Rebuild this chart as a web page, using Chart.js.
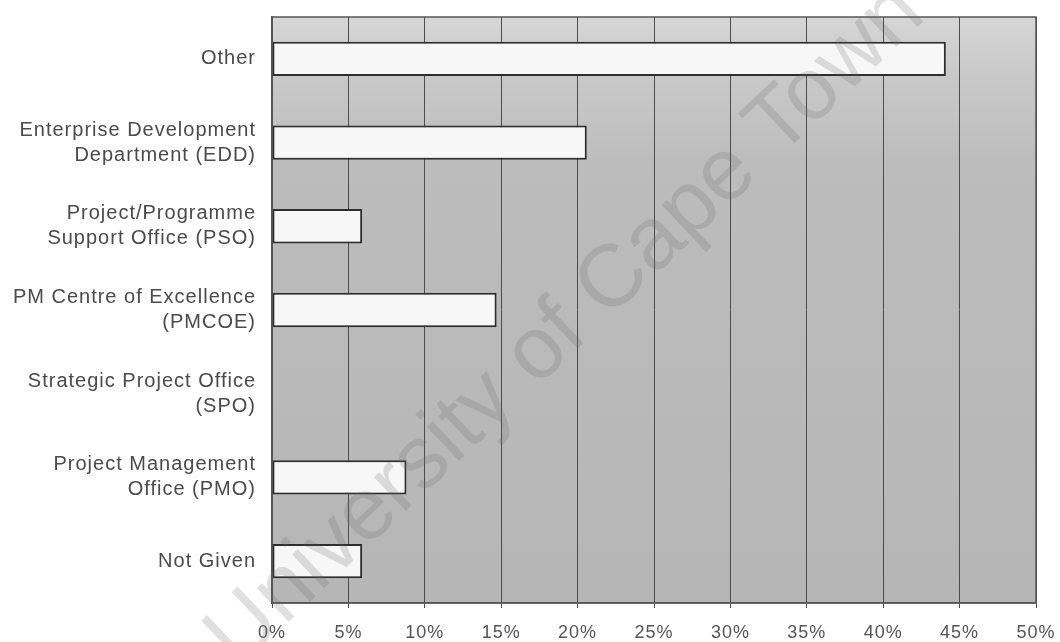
<!DOCTYPE html>
<html>
<head>
<meta charset="utf-8">
<script src="https://cdn.jsdelivr.net/npm/chart.js@4/dist/chart.umd.min.js"></script>
<style>
  html, body { margin: 0; padding: 0; background: #ffffff; }
  #wrap { width: 1060px; height: 642px; position: relative; }
</style>
</head>
<body>
<div id="wrap"><canvas id="c" width="1060" height="642"></canvas></div>
<script>
// ---- data ----
const categories = [
  ['Other'],
  ['Enterprise Development', 'Department (EDD)'],
  ['Project/Programme', 'Support Office (PSO)'],
  ['PM Centre of Excellence', '(PMCOE)'],
  ['Strategic Project Office', '(SPO)'],
  ['Project Management', 'Office (PMO)'],
  ['Not Given']
];
const percentages = [44.1, 20.6, 5.9, 14.7, 0, 8.8, 5.9];
const xTickValues = [0, 5, 10, 15, 20, 25, 30, 35, 40, 45, 50];
const xTickLabels = ['0%', '5%', '10%', '15%', '20%', '25%', '30%', '35%', '40%', '45%', '50%'];
const watermarkText = 'University of Cape Town';

// ---- plugins ----
const spacingPlugin = {
  id: 'spacing',
  beforeUpdate(chart) { chart.ctx.letterSpacing = '1px'; },
  beforeDraw(chart) { chart.ctx.letterSpacing = '1px'; }
};

const plotBg = {
  id: 'plotBg',
  beforeDraw(chart) {
    const { ctx, chartArea: a } = chart;
    ctx.save();
    const g = ctx.createLinearGradient(0, a.top, 0, a.bottom);
    g.addColorStop(0, '#d6d6d6');
    g.addColorStop(0.1, '#c9c9c9');
    g.addColorStop(0.25, '#bcbcbc');
    g.addColorStop(1, '#b6b6b6');
    ctx.fillStyle = g;
    ctx.fillRect(a.left, a.top, a.right - a.left, a.bottom - a.top);
    ctx.restore();
  },
  afterDatasetsDraw(chart) {
    const { ctx, chartArea: a } = chart;
    ctx.save();
    ctx.strokeStyle = '#555555';
    ctx.lineWidth = 1.5;
    ctx.strokeRect(a.left, a.top, a.right - a.left, a.bottom - a.top);
    ctx.restore();
  }
};

const watermark = {
  id: 'watermark',
  afterDraw(chart) {
    const ctx = chart.ctx;
    ctx.save();
    ctx.letterSpacing = '0px';
    ctx.translate(566, 326);
    ctx.rotate(-43.4 * Math.PI / 180);
    ctx.font = '88px "Liberation Sans", Arial, sans-serif';
    ctx.textAlign = 'center';
    ctx.textBaseline = 'middle';
    ctx.fillStyle = 'rgba(100,100,100,0.2)';
    ctx.fillText(watermarkText, 0, 0);
    ctx.restore();
  }
};

new Chart(document.getElementById('c'), {
  type: 'bar',
  data: {
    labels: categories,
    datasets: [{
      data: percentages,
      backgroundColor: '#f7f7f7',
      borderColor: '#2e2e2e',
      borderWidth: 2,
      borderSkipped: false,
      barPercentage: 0.41,
      categoryPercentage: 1.0
    }]
  },
  options: {
    indexAxis: 'y',
    responsive: false,
    animation: false,
    devicePixelRatio: 1,
    layout: { padding: { top: 17, right: 24, left: 0, bottom: 0 } },
    plugins: { legend: { display: false }, tooltip: { enabled: false }, title: { display: false } },
    scales: {
      x: {
        min: 0,
        max: 50,
        afterBuildTicks(scale) { scale.ticks = xTickValues.map(v => ({ value: v })); },
        ticks: {
          callback: (v, i) => xTickLabels[i],
          color: '#555555',
          font: { family: '"Liberation Sans", Arial, sans-serif', size: 18 },
          padding: 14,
          maxRotation: 0
        },
        grid: { color: '#4d4d4d', lineWidth: 1, tickLength: 5, drawOnChartArea: true },
        border: { display: true, color: '#555555', width: 1.5 },
        afterFit(scale) { scale.height = 39; scale.paddingLeft = 0; scale.paddingRight = 0; }
      },
      y: {
        ticks: {
          color: '#4a4a4a',
          font: { family: '"Liberation Sans", Arial, sans-serif', size: 20, lineHeight: 1.25 },
          padding: 8
        },
        grid: { display: false },
        border: { display: true, color: '#555555', width: 1.5 },
        afterFit(scale) { scale.width = 272; scale.paddingTop = 0; scale.paddingBottom = 0; }
      }
    }
  },
  plugins: [spacingPlugin, plotBg, watermark]
});
</script>
</body>
</html>
